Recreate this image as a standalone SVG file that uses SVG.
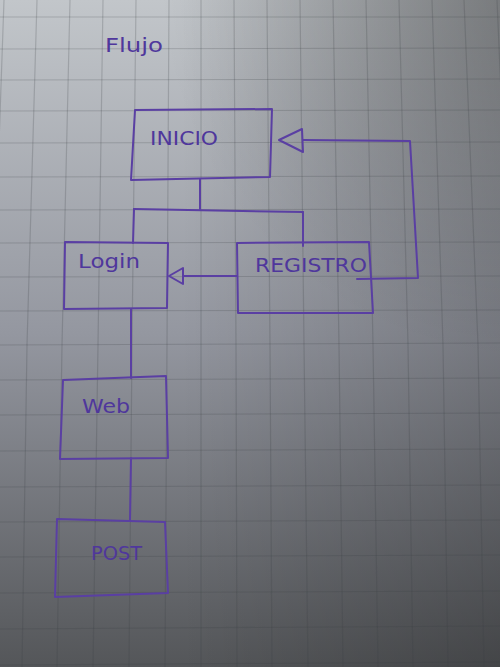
<svg xmlns="http://www.w3.org/2000/svg" width="500" height="667" viewBox="0 0 500 667">
<defs>
<linearGradient id="bgv" x1="0" y1="0" x2="0" y2="667" gradientUnits="userSpaceOnUse">
<stop offset="0" stop-color="#c2c6ca"/>
<stop offset="0.5" stop-color="#9497a0"/>
<stop offset="1" stop-color="#545659"/>
</linearGradient>
<linearGradient id="bgh" x1="180" y1="0" x2="500" y2="0" gradientUnits="userSpaceOnUse">
<stop offset="0" stop-color="#000" stop-opacity="0"/>
<stop offset="1" stop-color="#000" stop-opacity="0.2"/>
</linearGradient>
<radialGradient id="bgr" cx="540" cy="-20" r="380" gradientUnits="userSpaceOnUse">
<stop offset="0" stop-color="#000" stop-opacity="0.25"/>
<stop offset="1" stop-color="#000" stop-opacity="0"/>
</radialGradient>
<style>
.grid{fill:none;stroke:#3c3e44;stroke-opacity:0.22;stroke-width:1.2}
.pen{fill:none;stroke:#5a3fa3;stroke-width:2;stroke-linejoin:round;stroke-linecap:round}
.lbl{fill:#4f379c;font-family:"DejaVu Sans","Liberation Sans",sans-serif;font-weight:normal;font-size:20px}
</style>
</defs>
<g id="paper">
<rect width="500" height="667" fill="url(#bgv)"/>
<rect width="500" height="667" fill="url(#bgh)"/>
<rect width="500" height="667" fill="url(#bgr)"/>
<g class="grid">
<path d="M4,0 L-8,345 L-13,667"/>
<path d="M37,0 L27,345 L22,667"/>
<path d="M70,0 L62,345 L57,667"/>
<path d="M103,0 L98,345 L93,667"/>
<path d="M136,0 L132,345 L129,667"/>
<path d="M169,0 L167,345 L165,667"/>
<path d="M201,0 L201,345 L201,667"/>
<path d="M234,0 L236,345 L237,667"/>
<path d="M267,0 L270,345 L272,667"/>
<path d="M300,0 L304,345 L308,667"/>
<path d="M333,0 L339,345 L343,667"/>
<path d="M366,0 L373,345 L378,667"/>
<path d="M399,0 L408,345 L413,667"/>
<path d="M432,0 L443,345 L448,667"/>
<path d="M464,0 L478,345 L484,667"/>
<path d="M497,0 L512,345 L519,667"/>
<path d="M0,17 L500,17"/>
<path d="M0,49 L500,48"/>
<path d="M0,80 L500,79"/>
<path d="M0,111 L500,110"/>
<path d="M0,143 L500,142"/>
<path d="M0,177 L500,176"/>
<path d="M0,210 L500,209"/>
<path d="M0,243 L500,242"/>
<path d="M0,277 L500,276"/>
<path d="M0,311 L500,310"/>
<path d="M0,345 L500,343"/>
<path d="M0,380 L500,378"/>
<path d="M0,415 L500,413"/>
<path d="M0,451 L500,449"/>
<path d="M0,487 L500,485"/>
<path d="M0,522 L500,520"/>
<path d="M0,557 L500,555"/>
<path d="M0,593 L500,591"/>
<path d="M0,629 L500,626"/>
<path d="M0,665 L500,662"/>
</g>
</g>
<text id="title" class="lbl" x="105" y="52" textLength="58" lengthAdjust="spacingAndGlyphs">Flujo</text>
<g id="connectors" class="pen">
<path d="M200,179 L200,209"/>
<path d="M134,209 L303,212"/>
<path d="M134,209 L133,243"/>
<path d="M303,212 L303,246"/>
<path d="M237,276 L183,276"/>
<path d="M169,276 L183,268 L183,284 Z"/>
<path d="M357,279 L418,278 L410,141 L303,140"/>
<path d="M279,140 L302,129 L303,152 Z"/>
<path d="M131,309 L131,378"/>
<path d="M131,458 L130,521"/>
</g>
<g id="node-inicio">
<path class="pen" d="M135,110 L272,109 L270,177 L131,180 Z"/>
<text class="lbl" x="150" y="145" textLength="68" lengthAdjust="spacingAndGlyphs">INICIO</text>
</g>
<g id="node-login">
<path class="pen" d="M65,242 L168,243 L167,308 L64,309 Z"/>
<text class="lbl" x="78" y="268" textLength="62" lengthAdjust="spacingAndGlyphs">Login</text>
</g>
<g id="node-registro">
<path class="pen" d="M237,243 L369,242 L373,313 L238,313 Z"/>
<text class="lbl" x="255" y="272" textLength="112" lengthAdjust="spacingAndGlyphs">REGISTRO</text>
</g>
<g id="node-web">
<path class="pen" d="M63,380 L166,376 L168,458 L60,459 Z"/>
<text class="lbl" x="82" y="413" textLength="48" lengthAdjust="spacingAndGlyphs">Web</text>
</g>
<g id="node-post">
<path class="pen" d="M57,519 L165,522 L168,593 L55,597 Z"/>
<text class="lbl" x="91" y="560" font-size="22" textLength="51" lengthAdjust="spacingAndGlyphs">POST</text>
</g>
</svg>
